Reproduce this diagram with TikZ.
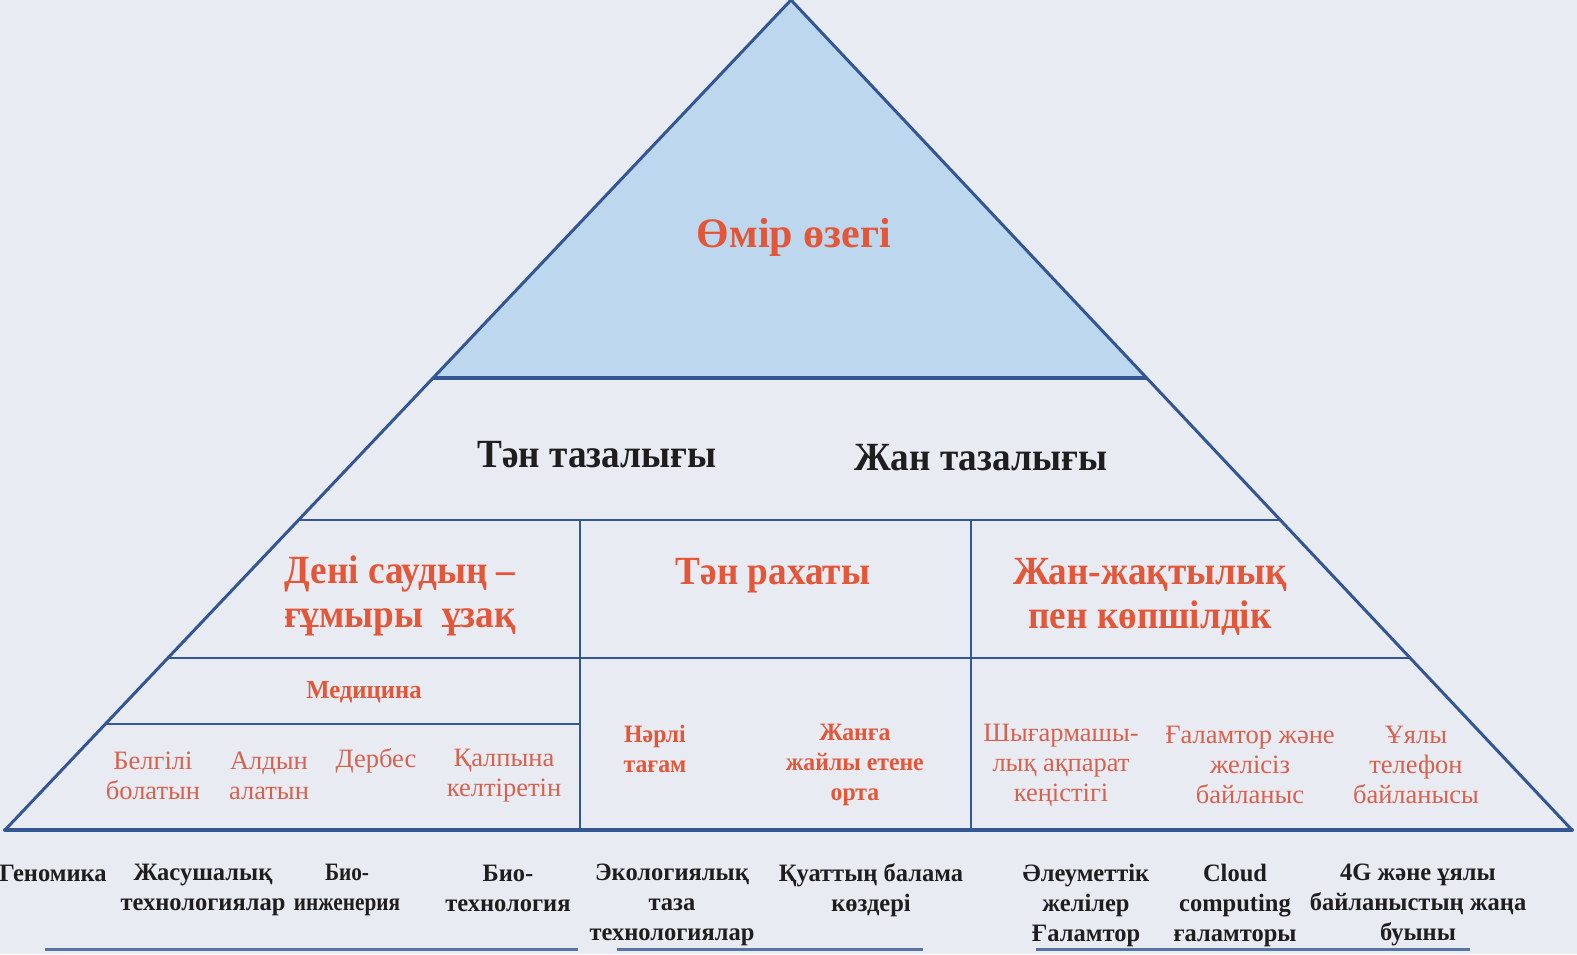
\documentclass[tikz,border=0pt]{standalone}
\usepackage{fontspec}
\setmainfont{Liberation Serif}
\newfontfamily\cndA[FakeStretch=0.93]{Liberation Serif}
\newfontfamily\cndB[FakeStretch=0.98]{Liberation Serif}
\newfontfamily\cndC[FakeStretch=0.95]{Liberation Serif}
\newfontfamily\cndN[FakeStretch=0.85]{Liberation Serif}
\definecolor{bg}{RGB}{233,235,243}
\definecolor{edge}{RGB}{52,86,145}
\definecolor{topfill}{RGB}{188,215,238}
\definecolor{redt}{RGB}{228,86,56}
\definecolor{redl}{RGB}{214,98,78}
\definecolor{blk}{RGB}{30,30,30}
\definecolor{uline}{RGB}{88,116,164}
\begin{document}
\begin{tikzpicture}[x=1pt,y=-1pt,
  frame/.style={draw=edge,line width=3pt,line join=round},
  inner/.style={draw=edge,line width=1.6pt},
  under/.style={draw=uline,line width=3pt},
  toptext/.style={text=redt,font=\bfseries\fontsize{42}{46}\selectfont,inner sep=0pt,align=center},
  bigred/.style={text=redt,font=\cndA\bfseries\fontsize{40}{44}\selectfont,inner sep=0pt,align=center},
  bigblk/.style={text=blk,font=\cndA\bfseries\fontsize{40}{44}\selectfont,inner sep=0pt,align=center},
  medred/.style={text=redt,font=\cndC\bfseries\fontsize{26}{30}\selectfont,inner sep=0pt,align=center},
  smred/.style={text=redl,font=\fontsize{26.5}{30}\selectfont,inner sep=0pt,align=center},
  smbred/.style={text=redt,font=\cndC\bfseries\fontsize{25}{30}\selectfont,inner sep=0pt,align=center},
  botblk/.style={text=blk,font=\cndB\bfseries\fontsize{25}{30}\selectfont,inner sep=0pt,align=center},
  botnarrow/.style={botblk,font=\cndN\bfseries\fontsize{25}{30}\selectfont}
]
\fill[bg] (0,0) rectangle (1577,954);
\useasboundingbox (0,0) rectangle (1577,954);

% key points
\coordinate (A) at (791,0);
\coordinate (L) at (5,830);
\coordinate (R) at (1572,830);
\coordinate (tl) at (433,378);
\coordinate (tr) at (1147,378);
\coordinate (l520) at (298.6,520);
\coordinate (r520) at (1280.3,520);
\coordinate (l658) at (167.9,658);
\coordinate (r658) at (1410.1,658);
\coordinate (l724) at (105.4,724);
\coordinate (m724) at (580,724);
\coordinate (v1t) at (580,520);
\coordinate (v1b) at (580,830);
\coordinate (v2t) at (971,520);
\coordinate (v2b) at (971,830);

% top filled triangle
\fill[topfill] (A) -- (tl) -- (tr) -- cycle;
\draw[draw=edge,line width=4pt] (tl) -- (tr);

% inner lines
\draw[inner] (l520) -- (r520);
\draw[inner] (l658) -- (r658);
\draw[inner] (l724) -- (m724);
\draw[inner] (v1t) -- (v1b);
\draw[inner] (v2t) -- (v2b);

% outer triangle
\draw[frame] (A) -- (L);
\draw[frame] (A) -- (R);
\draw[draw=edge,line width=4pt,line cap=round] (L) -- (R);

% bottom underlines
\coordinate (u1a) at (45,949);  \coordinate (u1b) at (578,949);
\coordinate (u2a) at (617,949); \coordinate (u2b) at (923,949);
\coordinate (u3a) at (1036,949);\coordinate (u3b) at (1470,949);
\draw[under] (u1a) -- (u1b);
\draw[under] (u2a) -- (u2b);
\draw[under] (u3a) -- (u3b);

% texts
\node[toptext] (omir) at (794,237) {Өмір өзегі};
\node[bigblk] (ten) at (597,455) {Тән тазалығы};
\node[bigblk] (zhan) at (981,458) {Жан тазалығы};
\node[bigred] (deni) at (400,596) {Дені саудың –\\ғұмыры\ \ ұзақ};
\node[bigred] (rahat) at (773,576) {Тән рахаты};
\node[bigred] (zhaq) at (1150,597) {Жан-жақтылық\\пен көпшілдік};
\node[medred] (med) at (364,692) {Медицина};

\node[smred] (belgili) at (153,776) {Белгілі\\болатын};
\node[smred] (aldyn) at (269,776) {Алдын\\алатын};
\node[smred] (derbes) at (376,761) {Дербес};
\node[smred] (qalp) at (504,776) {Қалпына\\келтіретін};
\node[smbred] (narli) at (655,749) {Нәрлі\\тағам};
\node[smbred] (zhanga) at (855,765) {Жанға\\жайлы етене\\орта};
\node[smred] (shyg) at (1061,765) {Шығармашы-\\лық ақпарат\\кеңістігі};
\node[smred] (galam) at (1250,765) {Ғаламтор және\\желісіз\\байланыс};
\node[smred] (uyaly) at (1416,765) {Ұялы\\телефон\\байланысы};

\node[botblk] (genom) at (53,873) {Геномика};
\node[botblk] (zhas) at (203,890) {Жасушалық\\технологиялар};
\node[botnarrow] (bioi) at (347,890) {Био-\\инженерия};
\node[botblk] (biot) at (508,888) {Био-\\технология};
\node[botblk] (ekol) at (672,905) {Экологиялық\\таза\\технологиялар};
\node[botblk] (quat) at (871,890) {Қуаттың балама\\көздері};
\node[botblk] (aleu) at (1086,905) {Әлеуметтік\\желілер\\Ғаламтор};
\node[botblk] (cloud) at (1235,905) {Cloud\\computing\\ғаламторы};
\node[botblk] (fourg) at (1418,905) {4G және ұялы\\байланыстың жаңа\\буыны};
\end{tikzpicture}
\end{document}
